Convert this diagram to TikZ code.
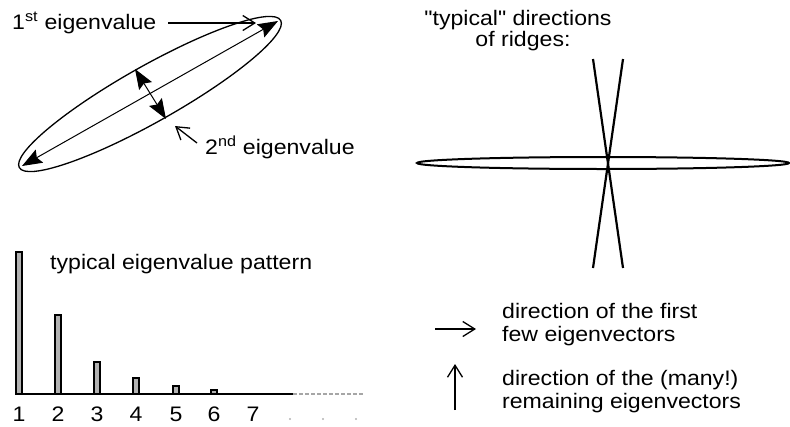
\documentclass[tikz,border=0pt]{standalone}
\usepackage{fontspec}
\setmainfont{Liberation Sans}[FakeStretch=1.1]
\newfontfamily\plainqfont{Liberation Sans}[FakeStretch=1.1]
\usetikzlibrary{arrows.meta}
\begin{document}
\begin{tikzpicture}[x=1pt,y=-1pt, font=\fontsize{21}{23}\selectfont,
  txt/.style={inner sep=0pt, anchor=base west},
  ctxt/.style={inner sep=0pt, anchor=base},
  openarr/.style={-{Straight Barb[length=12pt,width=15pt,line width=1.3pt]}, line width=1.3pt},
  fillarr/.style={{Stealth[length=20pt,width=15pt,inset=3pt]}-{Stealth[length=20pt,width=15pt,inset=3pt]}, line width=1pt},
  bar/.style={draw, fill=gray!60, line width=2pt}]
\useasboundingbox (0,0) rectangle (790,426);

% ---- upper left: ellipse with eigen arrows
\draw[line width=1.3pt, rotate around={29.4:(150,94)}] (150,94) ellipse [x radius=150, y radius=28];
\coordinate (la) at (22,166);
\coordinate (lb) at (278,21);
\coordinate (sa) at (135,69);
\coordinate (sb) at (166,119);
\draw[fillarr] (la) -- (lb);
\draw[fillarr] (sa) -- (sb);

\node[txt] (l1) at (12,29) {1\textsuperscript{st} eigenvalue};
\coordinate (l1s) at (168,23);
\coordinate (l1e) at (256,23);
\draw[openarr] (l1s) -- (l1e);

\node[txt] (l2) at (205,154) {2\textsuperscript{nd} eigenvalue};
\coordinate (l2s) at (197,143);
\coordinate (l2e) at (175,126);
\draw[openarr] (l2s) -- (l2e);

% ---- upper right: ridges
\node[ctxt] (t1) at (518,25) {\plainqfont "typical" directions};
\node[ctxt] (t2) at (523,46) {of ridges:};
\draw[line width=2pt] (603,163) ellipse [x radius=186, y radius=6];
\coordinate (r1a) at (593,59);
\coordinate (r1b) at (623,268);
\coordinate (r2a) at (623,59);
\coordinate (r2b) at (593,268);
\draw[line width=2.2pt] (r1a) -- (r1b);
\draw[line width=2.2pt] (r2a) -- (r2b);

% ---- lower right: legend
\coordinate (ha) at (435,329);
\coordinate (hb) at (476,329);
\draw[openarr] (ha) -- (hb);
\node[txt] (d1a) at (502,318) {direction of the first};
\node[txt] (d1b) at (502,341) {few eigenvectors};
\coordinate (va) at (455,410);
\coordinate (vb) at (455,364);
\draw[openarr] (va) -- (vb);
\node[txt] (d2a) at (502,385) {direction of the (many!)};
\node[txt] (d2b) at (502,408) {remaining eigenvectors};

% ---- lower left: bar chart
\node[txt] (pt) at (50,269) {typical eigenvalue pattern};
\draw[bar] (16,394) rectangle (22,252);
\draw[bar] (55,394) rectangle (61,315);
\draw[bar] (94,394) rectangle (100,362);
\draw[bar] (133,394) rectangle (139,378);
\draw[bar] (173,394) rectangle (179,386);
\draw[bar] (211,394) rectangle (217,390);
\coordinate (ax0) at (15,394);
\coordinate (ax1) at (293,394);
\coordinate (ax2) at (363,394);
\draw[line width=2pt] (ax0) -- (ax1);
\draw[line width=1.5pt, gray!70, dash pattern=on 4pt off 2pt] (ax1) -- (ax2);
\foreach \x/\n in {19/1,58/2,97/3,136/4,176/5,214/6,253/7}
  \node[ctxt] (n\n) at (\x,421) {\n};
\foreach \x in {290,323,356}
  \fill[gray!60] (\x,419) circle (1.2);
\end{tikzpicture}
\end{document}
